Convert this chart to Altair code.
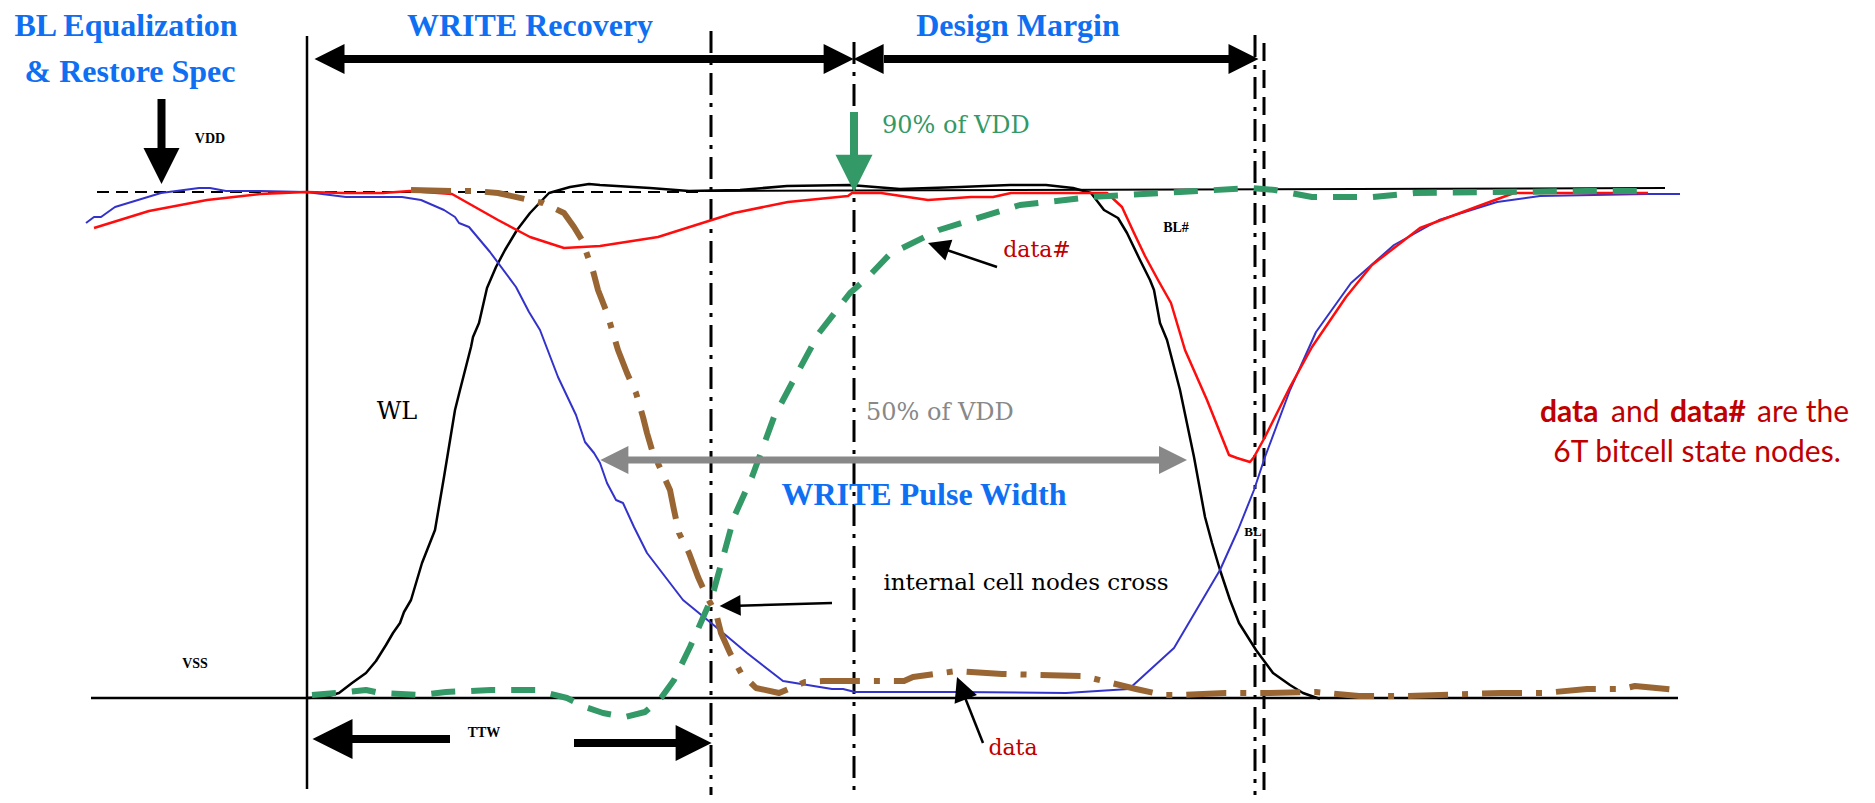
import altair as alt
import pandas as pd

# ---------------- data (time t, level v measured downward as in the figure) ----------------
wl_t = [307, 325, 339, 352, 366, 376, 386, 393, 400, 404, 411, 422, 435, 444, 455, 460, 471, 473, 479, 487,
        496, 505, 517, 530, 549, 570, 589, 600, 650, 689, 740, 787, 850, 900, 960, 1010, 1046, 1073, 1091, 1104,
        1118, 1127, 1140, 1150, 1154, 1160, 1167, 1180, 1194, 1205, 1212, 1220, 1230, 1239, 1256, 1273, 1290, 1303, 1320]
wl_v = [698, 697, 693, 683, 673, 661, 645, 633, 623, 612, 600, 563, 530, 477, 410, 390, 347, 337, 323, 288,
        267, 250, 230, 213, 193, 187, 184, 185, 188, 191, 190, 186, 185, 189, 187, 185, 185, 188, 193, 210,
        218, 233, 260, 280, 290, 323, 340, 390, 457, 517, 543, 570, 600, 623, 650, 673, 685, 693, 699]

bl_t = [86, 94, 101, 115, 161, 199, 210, 226, 260, 306, 346, 402, 421, 444, 455, 459, 469, 490, 516, 529,
        540, 558, 576, 585, 594, 600, 607, 616, 623, 634, 647, 683, 716, 747, 783, 832, 843, 855, 957, 1066,
        1129, 1174, 1220, 1238, 1254, 1265, 1290, 1316, 1351, 1394, 1439, 1497, 1540, 1648, 1680]
bl_v = [223, 217, 217, 207, 193, 188, 188, 191, 191, 192, 197, 197, 200, 210, 217, 223, 227, 252, 287, 312,
        330, 377, 415, 442, 453, 463, 483, 500, 503, 527, 553, 600, 627, 653, 681, 689, 689, 692, 692, 693,
        689, 648, 570, 530, 490, 457, 390, 332, 283, 245, 220, 202, 196, 194, 194]

blb_t = [94, 149, 207, 260, 306, 344, 383, 410, 452, 475, 498, 530, 564, 600, 658, 734, 788, 848, 852, 881,
         928, 971, 993, 1011, 1107, 1122, 1134, 1145, 1158, 1171, 1185, 1207, 1229, 1237, 1250, 1254, 1265, 1290, 1312, 1346,
         1372, 1420, 1476, 1514, 1648]
blb_v = [228, 211, 200, 194, 192, 193, 193, 191, 194, 207, 220, 237, 248, 246, 237, 213, 202, 196, 193, 193,
         200, 197, 197, 193, 193, 207, 233, 256, 280, 303, 350, 400, 455, 458, 462, 457, 437, 387, 347, 297,
         265, 228, 207, 193, 193]

datab_t = [312, 348, 366, 380, 420, 446, 491, 536, 547, 567, 585, 603, 625, 645, 661, 674, 690, 702, 712, 725,
           734, 752, 774, 792, 819, 850, 868, 890, 939, 971, 1020, 1091, 1180, 1252, 1275, 1312, 1372, 1415, 1587, 1652]
datab_v = [695, 692, 690, 693, 695, 692, 690, 690, 693, 698, 707, 713, 717, 712, 698, 680, 647, 620, 597, 550,
           517, 477, 417, 383, 333, 293, 277, 254, 230, 220, 205, 197, 192, 188, 190, 197, 197, 193, 191, 191]

data_t = [411, 455, 475, 498, 543, 564, 574, 582, 589, 592, 598, 607, 618, 627, 636, 643, 647, 652, 661, 670,
          674, 679, 689, 698, 707, 716, 721, 730, 741, 756, 779, 805, 823, 904, 913, 957, 971, 1002, 1082, 1091,
          1136, 1163, 1180, 1225, 1269, 1316, 1359, 1407, 1501, 1544, 1587, 1622, 1635, 1678]
data_v = [190, 191, 191, 193, 203, 213, 227, 240, 260, 267, 290, 313, 350, 373, 393, 417, 433, 450, 470, 490,
          510, 533, 553, 577, 597, 613, 633, 653, 673, 688, 693, 682, 681, 681, 677, 671, 672, 674, 676, 678,
          689, 695, 695, 693, 693, 692, 696, 696, 693, 693, 689, 689, 686, 690]

# reference levels / markers
vdd_level = 192
vss_level = 698
marker_t = [711, 854, 1255]     # dash-dot time markers
marker2_t = [1264]              # dashed marker

# ---------------- styling ----------------
BLUE_T = "#0F6FF2"
DRED = "#C00000"
GREEN = "#339966"
BROWN = "#996633"
GRAY = "#888888"
HEAD = "M0,0L-2,-1L-2,1Z"
TITLE_FONT = "Liberation Serif"

xs = alt.Scale(domain=[8, 1867], nice=False, zero=False)
ys = alt.Scale(domain=[8, 795], reverse=True, nice=False, zero=False)
X = alt.X("t:Q", scale=xs, axis=None)
Y = alt.Y("v:Q", scale=ys, axis=None)

layers = []


def curve(ts, vs, color, width, dash=None):
    df = pd.DataFrame({"t": ts, "v": vs, "i": list(range(len(ts)))})
    kw = dict(color=color, strokeWidth=width, strokeJoin="round", strokeCap="butt")
    if dash:
        kw["strokeDash"] = dash
    return alt.Chart(df).mark_line(**kw).encode(x=X, y=Y, order="i:Q")


def segs(rows, color, width, dash=None):
    df = pd.DataFrame(rows, columns=["t", "v", "t2", "v2"])
    kw = dict(color=color, strokeWidth=width, strokeCap="butt")
    if dash:
        kw["strokeDash"] = dash
    return alt.Chart(df).mark_rule(**kw).encode(x=X, y=Y, x2="t2:Q", y2="v2:Q")


def heads(rows, color):
    df = pd.DataFrame(rows, columns=["t", "v", "a", "s"])
    return alt.Chart(df).mark_point(shape=HEAD, filled=True, opacity=1, color=color, strokeWidth=0).encode(
        x=X, y=Y, angle=alt.Angle("a:Q", scale=None), size=alt.Size("s:Q", scale=None))


def txt(t, v, s, size, color="black", font="DejaVu Serif", weight="normal", align="center"):
    df = pd.DataFrame({"t": [t], "v": [v], "s": [s]})
    return alt.Chart(df).mark_text(fontSize=size, color=color, font=font, fontWeight=weight,
                                   align=align, baseline="middle").encode(x=X, y=Y, text="s:N")


# axes-like lines
layers.append(segs([[307, 36, 307, 789]], "black", 2.5))
layers.append(segs([[91, vss_level, 1678, vss_level]], "black", 2.5))
layers.append(segs([[97, vdd_level, 705, vdd_level]], "black", 2, [12, 7]))
layers.append(segs([[705, 191, 1665, 188]], "black", 2))
layers.append(segs([[marker_t[0], 31, marker_t[0], 803], [marker_t[1], 42, marker_t[1], 803],
                    [marker_t[2], 35, marker_t[2], 803]], "black", 3, [22, 8, 4, 8]))
layers.append(segs([[marker2_t[0], 43, marker2_t[0], 800]], "black", 3, [18, 9]))

# waveforms
layers.append(curve(wl_t, wl_v, "black", 2.5))
layers.append(curve(bl_t, bl_v, "#3333CC", 2))
layers.append(curve(blb_t, blb_v, "#FF0D0D", 2.5))
layers.append(curve(data_t, data_v, BROWN, 6, [40, 14, 6, 14]))
layers.append(curve(datab_t, datab_v, GREEN, 6, [24, 16]))

# black arrows
layers.append(segs([[343, 59, 825, 59], [884, 59, 1230, 59], [161.5, 99, 161.5, 150],
                    [351, 739, 450, 739], [574, 743, 677, 743]], "black", 8))
layers.append(segs([[997, 267, 935, 246], [832, 603, 730, 606], [983, 743, 962, 690]], "black", 2.5))
layers.append(heads([[314.5, 59, 180, 900], [853.6, 59, 0, 900], [853.6, 59, 180, 900], [1258.5, 59, 0, 900],
                     [161.5, 184, 90, 1296], [312.5, 739, 180, 1600], [711.6, 743, 0, 1296],
                     [928, 243, 198.7, 484], [719.6, 606, 178.3, 441], [957, 677, 248.6, 576]], "black"))
# green arrow
layers.append(segs([[854, 112, 854, 156]], GREEN, 8))
layers.append(heads([[854, 191.7, 90, 1369]], GREEN))
# gray arrow
layers.append(segs([[627, 460, 1160, 460]], GRAY, 7))
layers.append(heads([[600.4, 460, 180, 784], [1187, 460, 0, 784]], GRAY))

# texts
layers.append(txt(126, 26, "BL Equalization", 32, BLUE_T, font=TITLE_FONT, weight="bold"))
layers.append(txt(130, 72, "& Restore Spec", 32, BLUE_T, font=TITLE_FONT, weight="bold"))
layers.append(txt(530, 26, "WRITE Recovery", 32, BLUE_T, font=TITLE_FONT, weight="bold"))
layers.append(txt(1018, 26, "Design Margin", 32, BLUE_T, font=TITLE_FONT, weight="bold"))
layers.append(txt(924, 495, "WRITE Pulse Width", 32, BLUE_T, font=TITLE_FONT, weight="bold"))
layers.append(txt(210, 139, "VDD", 14, font="Liberation Serif", weight="bold"))
layers.append(txt(195, 664, "VSS", 14, font="Liberation Serif", weight="bold"))
layers.append(txt(484, 733, "TTW", 14, font="Liberation Serif", weight="bold"))
layers.append(txt(1176, 228, "BL#", 14, font="Liberation Serif", weight="bold"))
layers.append(txt(1253, 532, "BL", 13, font="Liberation Serif", weight="bold"))
layers.append(txt(882, 126, "90% of VDD", 24, GREEN, align="left"))
layers.append(txt(866, 413, "50% of VDD", 24, GRAY, align="left"))
layers.append(txt(1037, 250, "data#", 22, DRED))
layers.append(txt(1013, 748, "data", 22, DRED))
layers.append(txt(397, 412, "WL", 24))
layers.append(txt(1026, 583, "internal cell nodes cross", 23))
layers.append(txt(1540, 413, "data", 30, DRED, font="Lato", weight="bold", align="left"))
layers.append(txt(1611, 413, "and", 30, DRED, font="Lato", align="left"))
layers.append(txt(1670, 413, "data#", 30, DRED, font="Lato", weight="bold", align="left"))
layers.append(txt(1757, 413, "are the", 30, DRED, font="Lato", align="left"))
layers.append(txt(1697, 453, "6T bitcell state nodes.", 30, DRED, font="Lato"))

chart = alt.layer(*layers).properties(
    width=1859, height=787, padding=0, background="white",
    autosize=alt.AutoSizeParams(type="none")
).configure_view(stroke=None)

chart.save("out.html", embed_options={"renderer": "svg", "actions": False})
